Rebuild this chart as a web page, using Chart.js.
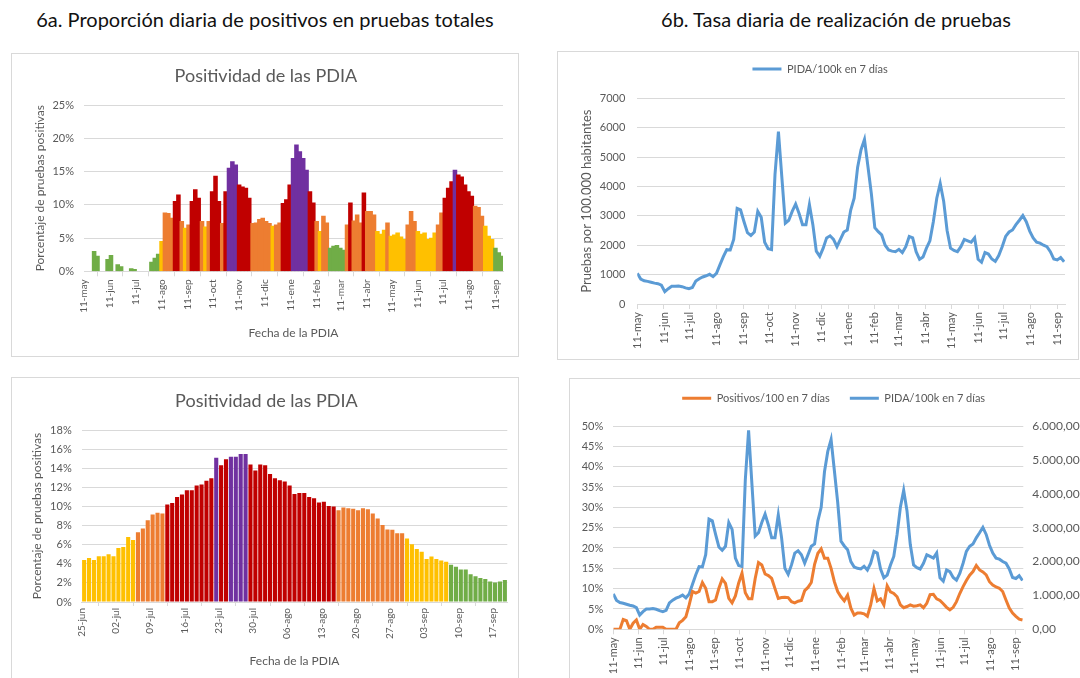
<!DOCTYPE html>
<html>
<head>
<meta charset="utf-8">
<script src="https://cdn.jsdelivr.net/npm/chart.js@4.4.1/dist/chart.umd.min.js"></script>
<style>
  html, body { margin: 0; padding: 0; background: #fff; width: 1080px; height: 678px; overflow: hidden; }
  .head { position: absolute; top: 7px; font-family: Lato, sans-serif; font-size: 20px; font-weight: 400; color: #111; white-space: nowrap; transform: translateX(-50%); }
  .box { position: absolute; border: 1px solid #d9d9d9; box-sizing: border-box; }
  canvas { position: absolute; }
</style>
</head>
<body>
<div class="head" style="left:265px">6a. Proporción diaria de positivos en pruebas totales</div>
<div class="head" style="left:836px">6b. Tasa diaria de realización de pruebas</div>

<div class="box" style="left:11px;top:53px;width:508px;height:304px"></div>
<div class="box" style="left:557px;top:51px;width:522px;height:309px"></div>
<div class="box" style="left:11px;top:377px;width:508px;height:310px"></div>
<div class="box" style="left:569px;top:378px;width:520px;height:310px"></div>

<canvas id="c1" width="508" height="304" style="left:11px;top:53px"></canvas>
<canvas id="c2" width="523" height="312" style="left:557px;top:50px"></canvas>
<canvas id="c3" width="508" height="301" style="left:11px;top:377px"></canvas>
<canvas id="c4" width="526" height="300" style="left:569px;top:378px"></canvas>

<script>
// ---- datos ----
const MESES = ['ene','feb','mar','abr','may','jun','jul','ago','sep','oct','nov','dic'];
const INICIO = new Date(2020, 4, 11);   // 11-may-2020
const PASO = 4;                          // un valor cada 4 días
const DIAS = 497;

// positividad diaria de las PDIA (%), null = sin dato
const positividad = [
  null, null, null, 3.0, 2.3, null, null, 1.8, 2.4, null,
  1.0, 0.7, null, null, 0.4, 0.3, null, null, null, null,
  1.4, 2.0, 2.6, 4.5, 8.8, 8.7, 8.0, 10.5, 11.5, 7.5,
  6.5, 7.0, 10.5, 12.3, 11.0, 7.5, 6.7, 7.5, 12.0, 14.3,
  10.5, 7.2, 12.0, 15.5, 16.5, 16.0, 13.0, 12.7, 12.5, 11.0,
  7.2, 7.3, 7.8, 8.0, 7.5, 7.2, 6.8, 7.0, 7.3, 10.2,
  10.8, 13.0, 17.0, 19.0, 18.0, 17.0, 15.2, 12.0, 10.3, 7.5,
  6.0, 8.3, 7.3, 3.5, 3.8, 3.9, 3.5, 3.2, 7.0, 10.3,
  7.6, 8.5, 7.3, 11.8, 9.0, 9.0, 8.5, 6.0, 5.6, 6.2,
  7.3, 5.3, 5.5, 5.8, 5.2, 4.8, 7.0, 9.0, 7.5, 6.0,
  5.6, 5.8, 4.8, 5.0, 5.8, 7.0, 8.8, 11.0, 12.5, 13.5,
  15.2, 14.5, 14.2, 13.0, 12.0, 11.3, 9.8, 9.6, 8.3, 6.8,
  5.3, 4.8, 3.5, 2.8, 2.3
];

// PIDA por 100.000 hab. en 7 días
const pida100k = [
  1045, 850, 790, 770, 740, 710, 690, 640, 420, 520,
  600, 600, 610, 590, 550, 520, 560, 780, 860, 920,
  960, 1010, 930, 1045, 1330, 1610, 1850, 1840, 2200, 3250,
  3200, 2800, 2430, 2330, 2450, 3150, 2950, 2100, 1880, 1850,
  4400, 5870, 4300, 2750, 2850, 3150, 3400, 3080, 2700, 2700,
  3380, 2700, 1800, 1620, 1900, 2250, 2320, 2200, 1950, 2200,
  2450, 2520, 3200, 3600, 4650, 5250, 5600, 4680, 3750, 2600,
  2460, 2350, 2000, 1840, 1800, 1780, 1860, 1750, 1950, 2300,
  2250, 1780, 1520, 1600, 1900, 2150, 2800, 3600, 4100, 3500,
  2500, 1900, 1820, 1780, 1950, 2200, 2150, 2100, 2250, 1520,
  1420, 1750, 1700, 1530, 1450, 1650, 1950, 2300, 2450, 2520,
  2700, 2850, 3010, 2800, 2480, 2250, 2100, 2070, 2000, 1950,
  1780, 1530, 1500, 1580, 1440
];

// positivos por 100 pruebas en 7 días (%)
const positivos100 = [
  0, 0, 0, 2.4, 2.1, 0, 1.5, 2.3, 0, 1.2,
  0.7, 0, 0, 0.5, 0.5, 0.5, 0, 0, 0, 0,
  1.6, 2.2, 3.1, 6.0, 9.3, 8.9, 9.3, 11.5, 10.1, 6.8,
  6.8, 7.2, 10.1, 12.4, 11.3, 7.6, 6.5, 8.2, 11.4, 13.8,
  9.0, 7.5, 7.5, 12.5, 16.4, 15.8, 13.6, 13.2, 12.5, 10.0,
  7.6, 7.8, 7.9, 7.8, 6.8, 6.5, 6.9, 7.1, 9.5, 10.3,
  11.5, 16.0, 18.7, 19.8, 17.5, 17.5, 15.0, 11.7, 9.3, 8.0,
  7.0, 8.4, 5.2, 3.5, 4.0, 4.0, 3.8, 3.2, 6.0, 10.0,
  7.0, 7.5, 6.0, 10.7, 9.2, 8.8, 8.0, 6.0, 5.3, 5.6,
  6.0, 5.7, 5.8, 6.0, 5.3, 6.4, 8.5, 8.6, 7.5, 7.1,
  6.3, 5.4, 4.8, 5.4, 6.8, 8.8, 10.5, 12.0, 13.3, 14.2,
  15.7, 14.6, 14.1, 13.4, 11.7, 10.9, 10.4, 10.1, 9.3, 7.2,
  5.2, 4.0, 3.2, 2.5, 2.3
];

// detalle diario 25-jun -> 19-sep 2021 (%)
const positividadDetalle = [
  4.4, 4.6, 4.4, 4.8, 4.8, 5.0, 4.8, 5.65, 5.75, 6.8,
  6.5, 7.3, 7.7, 8.55, 9.15, 9.35, 9.25, 10.2, 10.35, 11.0,
  11.25, 11.7, 11.7, 12.2, 12.3, 12.7, 12.95, 15.1, 14.3, 14.95,
  15.2, 15.2, 15.5, 15.5, 14.4, 13.75, 14.4, 14.3, 13.4, 12.95,
  12.75, 12.6, 12.2, 11.3, 11.4, 11.4, 11.0, 10.85, 10.4, 10.5,
  10.05, 10.0, 9.6, 9.9, 9.8, 9.75, 9.6, 9.8, 9.7, 9.25,
  8.75, 8.05, 7.6, 7.55, 7.2, 7.2, 6.65, 6.05, 5.55, 5.25,
  4.5, 4.75, 4.5, 4.35, 4.2, 3.9, 3.7, 3.4, 3.4, 2.9,
  2.7, 2.5, 2.4, 2.15, 2.05, 2.15, 2.3
];
const detalleTicks = ['25-jun','02-jul','09-jul','16-jul','23-jul','30-jul','06-ago',
  '13-ago','20-ago','27-ago','03-sep','10-sep','17-sep'];

// niveles de positividad
const NIVEL_LIMITES = [4, 7, 10, 15];
const NIVEL_COLORES = ['#70ad47', '#ffc000', '#ed7d31', '#c00000', '#7030a0'];

// ---- estilo ----
const FONT = 'Lato, sans-serif';
const GRIS = '#595959';
const REJILLA = '#d9d9d9';
const AZUL = '#5b9bd5';
const NARANJA = '#ed7d31';

function colorNivel(v) {
  let n = 0;
  while (n < NIVEL_LIMITES.length && v >= NIVEL_LIMITES[n]) n++;
  return NIVEL_COLORES[n];
}

const dias = positividad.map((_, i) => i * PASO);
const ticksMes = [];
for (let k = 0; k <= 16; k++) {
  const d = new Date(2020, 4 + k, 11);
  ticksMes.push({ value: Math.round((d - INICIO) / 864e5), label: '11-' + MESES[d.getMonth()] });
}

function ejeMeses(size, alto) {
  return {
    type: 'linear', min: 0, max: DIAS, offset: false,
    afterBuildTicks: s => { s.ticks = ticksMes.map(t => ({ value: t.value })); },
    afterFit: s => { s.height = alto; },
    ticks: {
      autoSkip: false, minRotation: 90, maxRotation: 90, padding: 3, color: GRIS,
      font: { family: FONT, size: size },
      callback: v => (ticksMes.find(t => t.value === v) || {}).label
    },
    grid: { drawOnChartArea: false, tickLength: 5, color: REJILLA },
    border: { color: REJILLA }
  };
}

function tituloEje(texto, size) {
  return { display: true, text: texto, color: GRIS, font: { family: FONT, size: size } };
}

Chart.defaults.animation = false;
Chart.defaults.font.family = FONT;
Chart.defaults.plugins.tooltip.enabled = false;

// 6a arriba: positividad diaria
new Chart(document.getElementById('c1'), {
  type: 'bar',
  data: {
    datasets: [{
      data: dias.map((d, i) => ({ x: d, y: positividad[i] })),
      backgroundColor: positividad.map(v => colorNivel(v || 0)),
      barThickness: 3.9
    }]
  },
  options: {
    responsive: false,
    layout: { padding: { top: 0, left: 17.8, right: 16, bottom: 13.1 } },
    plugins: {
      legend: { display: false },
      title: { display: true, text: 'Positividad de las PDIA', color: GRIS,
        font: { family: FONT, size: 18, weight: 'normal' }, padding: { top: 12.2, bottom: 18.2 } }
    },
    scales: {
      x: Object.assign(ejeMeses(10, 72.6), { title: tituloEje('Fecha de la PDIA', 12) }),
      y: {
        min: 0, max: 25,
        afterFit: s => { s.width = 55.2; },
        ticks: { stepSize: 5, padding: 10, color: GRIS, font: { size: 11 }, callback: v => v + '%' },
        grid: { color: REJILLA, drawTicks: false },
        border: { display: false },
        title: tituloEje('Porcentaje de pruebas positivas', 12)
      }
    }
  }
});

// 6b arriba: PIDA/100k
new Chart(document.getElementById('c2'), {
  type: 'line',
  data: {
    datasets: [{
      label: 'PIDA/100k en 7 días',
      data: dias.map((d, i) => ({ x: d, y: pida100k[i] })),
      borderColor: AZUL, backgroundColor: AZUL, borderWidth: 3, pointRadius: 0
    }]
  },
  options: {
    responsive: false,
    layout: { padding: { top: 7.5, left: 18.2, right: 15, bottom: 0 } },
    plugins: {
      legend: { labels: { usePointStyle: true, pointStyle: 'line', pointStyleWidth: 29, padding: 6,
        color: GRIS, font: { size: 11 } } },
      subtitle: { display: true, text: ' ', weight: 500, font: { size: 1 }, padding: { top: 12.6, bottom: 0 } }
    },
    scales: {
      x: ejeMeses(11, 58),
      y: {
        min: 0, max: 7000,
        afterFit: s => { s.width = 62.1; },
        ticks: { stepSize: 1000, padding: 12, color: GRIS, font: { size: 11 }, callback: v => String(v) },
        grid: { color: REJILLA, drawTicks: false },
        border: { display: false },
        title: tituloEje('Pruebas por 100.000 habitantes', 13)
      }
    }
  }
});

// 6a abajo: detalle diario
new Chart(document.getElementById('c3'), {
  type: 'bar',
  data: {
    datasets: [{
      data: positividadDetalle.map((v, i) => ({ x: i + 0.5, y: v })),
      backgroundColor: positividadDetalle.map(colorNivel),
      barPercentage: 0.84, categoryPercentage: 1
    }]
  },
  options: {
    responsive: false,
    layout: { padding: { top: 0, left: 14.5, right: 11.7, bottom: 5.8 } },
    plugins: {
      legend: { display: false },
      title: { display: true, text: 'Positividad de las PDIA', color: GRIS,
        font: { family: FONT, size: 18, weight: 'normal' }, padding: { top: 13.2, bottom: 18.2 } }
    },
    scales: {
      x: {
        type: 'linear', min: 0, max: positividadDetalle.length, offset: false,
        afterBuildTicks: s => { s.ticks = detalleTicks.map((_, k) => ({ value: k * 7 })); },
        afterFit: s => { s.height = 70.2; },
        ticks: { autoSkip: false, minRotation: 90, maxRotation: 90, padding: 2, color: GRIS,
          font: { size: 10 }, callback: v => detalleTicks[v / 7] },
        grid: { drawOnChartArea: false, tickLength: 4, color: REJILLA },
        border: { color: REJILLA },
        title: tituloEje('Fecha de la PDIA', 12)
      },
      y: {
        min: 0, max: 18,
        afterFit: s => { s.width = 56.2; },
        ticks: { stepSize: 2, padding: 10, color: GRIS, font: { size: 11 }, callback: v => v + '%' },
        grid: { color: REJILLA, drawTicks: false },
        border: { display: false },
        title: tituloEje('Porcentaje de pruebas positivas', 12)
      }
    }
  }
});

// 6b abajo: positivos/100 y PIDA/100k
new Chart(document.getElementById('c4'), {
  type: 'line',
  data: {
    datasets: [{
      label: 'Positivos/100 en 7 días',
      data: dias.map((d, i) => ({ x: d, y: positivos100[i] })),
      borderColor: NARANJA, backgroundColor: NARANJA, borderWidth: 3, pointRadius: 0, yAxisID: 'y'
    }, {
      label: 'PIDA/100k en 7 días',
      data: dias.map((d, i) => ({ x: d, y: pida100k[i] })),
      borderColor: AZUL, backgroundColor: AZUL, borderWidth: 3, pointRadius: 0, yAxisID: 'y1'
    }]
  },
  options: {
    responsive: false,
    layout: { padding: { top: -5.2, left: 10, right: 6.7, bottom: 0 } },
    plugins: {
      legend: { labels: { usePointStyle: true, pointStyle: 'line', pointStyleWidth: 29, padding: 20,
        color: GRIS, font: { size: 11 } } },
      subtitle: { display: true, text: ' ', weight: 500, font: { size: 1 }, padding: { top: 11, bottom: 0 } }
    },
    scales: {
      x: ejeMeses(11, 48.7),
      y: {
        min: 0, max: 50,
        afterFit: s => { s.width = 34.3; },
        ticks: { stepSize: 5, padding: 10, color: GRIS, font: { size: 11 }, callback: v => v + '%' },
        grid: { color: REJILLA, drawTicks: false },
        border: { display: false }
      },
      y1: {
        position: 'right', min: 0, max: 6000,
        afterFit: s => { s.width = 65; },
        ticks: { stepSize: 1000, padding: 9, color: GRIS, font: { size: 12 },
          callback: v => v.toLocaleString('de-DE', { minimumFractionDigits: 2, maximumFractionDigits: 2 }) },
        grid: { drawOnChartArea: false, drawTicks: false },
        border: { display: false }
      }
    }
  }
});
</script>
</body>
</html>
